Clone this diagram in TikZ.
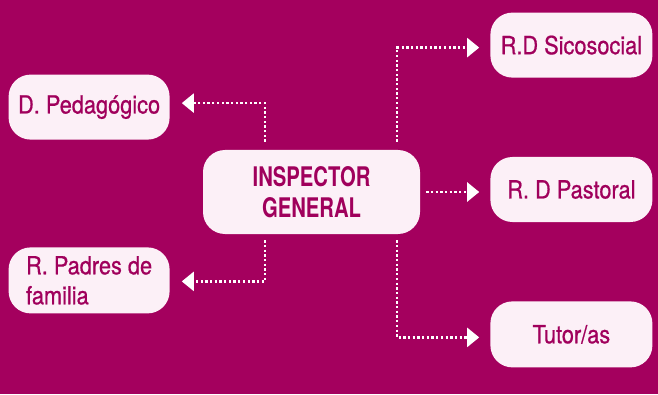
\documentclass[tikz,border=0pt]{standalone}
\usepackage{fontspec}
\setmainfont{TeX Gyre Heros}[FakeStretch=0.87,FakeBold=0.7]
\newfontfamily\headfont{TeX Gyre Heros}[FakeStretch=0.75]
\usepackage{tikz}
\usetikzlibrary{arrows.meta, positioning}
\definecolor{bgmagenta}{RGB}{164,0,94}
\definecolor{txtmagenta}{RGB}{160,0,92}
\definecolor{boxpink}{RGB}{252,240,247}

\begin{document}
\begin{tikzpicture}[x=1pt,y=1pt,boxstyle/.style={
	fill=boxpink,text=txtmagenta,rounded corners=22pt,minimum width=162pt,minimum height=65pt,align=center,inner sep=2pt,font=\fontsize{25}{30}\selectfont
},linkstyle/.style={
	draw=white,line width=2.3pt,dash pattern=on 2.3pt off 2.4pt,-{Triangle[length=12pt,width=19pt]}
}]

	\fill[bgmagenta] (0,0) rectangle (658,394);

	\node[boxstyle,minimum width=217pt,minimum height=84pt,font=\headfont\bfseries\fontsize{27}{31}\selectfont] at (311.5,202) (ctr) {INSPECTOR\\GENERAL};
	\node[boxstyle,minimum width=161pt,above left=10pt and 33pt of ctr] (ped) {D. Pedagógico};
	\node[boxstyle,minimum width=161pt,minimum height=66pt,align=left,below left=13pt and 33pt of ctr] (pad) {R. Padres de\\familia};
	\node[boxstyle,above right=72pt and 70pt of ctr] (sic) {R.D Sicosocial};
	\node[boxstyle,right=70pt of ctr,yshift=2.5pt] (pas) {R. D Pastoral};
	\node[boxstyle,minimum height=66pt,below right=67pt and 70pt of ctr] (tut) {Tutor/as};

	\draw[linkstyle,shorten <=8pt,shorten >=12pt] ([xshift=-46.5pt]ctr.north) |- ([yshift=4pt]ped.east);
	\draw[linkstyle,shorten <=6pt,shorten >=12pt] ([xshift=-46.5pt]ctr.south) |- ([yshift=-1pt]pad.east);
	\draw[linkstyle,shorten <=8pt,shorten >=11pt] ([xshift=85.5pt]ctr.north) |- ([yshift=-2.5pt]sic.west);
	\draw[linkstyle,shorten <=6pt,shorten >=11pt] (ctr.east) -- (ctr.east -| pas.west);
	\draw[linkstyle,shorten <=6pt,shorten >=11pt] ([xshift=85.5pt]ctr.south) |- ([yshift=-3pt]tut.west);
\end{tikzpicture}
\end{document}
